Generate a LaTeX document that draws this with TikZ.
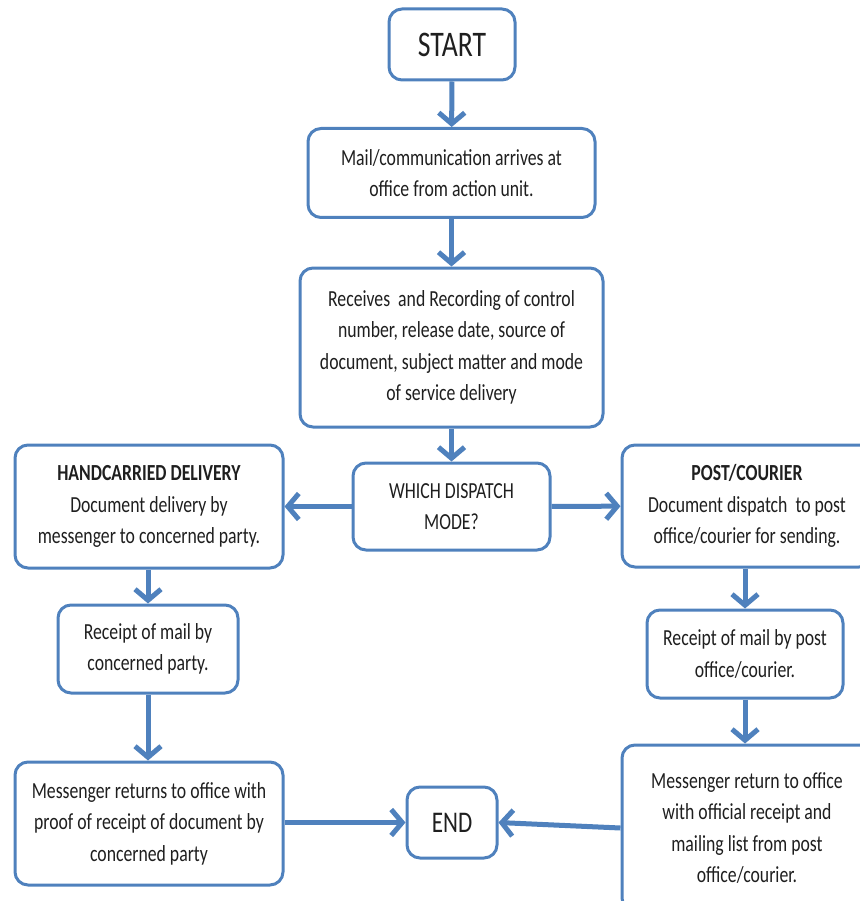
\documentclass[tikz,border=0pt]{standalone}
\usepackage{fontspec}
\setmainfont{Carlito}[FakeStretch=0.77]
\usetikzlibrary{arrows.meta}
\definecolor{flowblue}{HTML}{4F81BD}
\begin{document}
\begin{tikzpicture}[x=1pt,y=-1pt,
  box/.style={draw=flowblue, line width=3pt, rounded corners=13pt, fill=white,
    align=center, inner sep=0pt, text=black!88,
    font=\fontsize{23}{31.5}\selectfont},
  flow/.style={draw=flowblue, line width=5pt,
    -{Straight Barb[length=11pt,width=26pt]}}
]
\useasboundingbox (0,0) rectangle (859,901);

% main column
\node[box, minimum width=126pt, minimum height=71pt, font=\fontsize{36}{40}\selectfont]
  (start) at (452,44.5) {START};
\node[box, minimum width=287pt, minimum height=89pt] (mail) at (451.5,173)
  {Mail/communication arrives at\\office from action unit.};
\node[box, minimum width=303pt, minimum height=159pt] (recv) at (451.5,347.5)
  {Receives\ \ and Recording of control\\number, release date, source of\\document, subject matter and mode\\of service delivery};
\node[box, minimum width=197pt, minimum height=87pt] (which) at (451.5,506.5)
  {WHICH DISPATCH\\MODE?};

% hand-carried branch
\node[box, minimum width=268pt, minimum height=123pt] (hand) at (149,506.5)
  {\textbf{HANDCARRIED DELIVERY}\\Document delivery by\\messenger to concerned party.};
\node[box, minimum width=180pt, minimum height=88pt] (rl) at (148,649)
  {Receipt of mail by\\concerned party.};
\node[box, minimum width=268pt, minimum height=123pt] (ml) at (149,823.5)
  {Messenger returns to office with\\proof of receipt of document by\\concerned party};

% post/courier branch
\node[box, minimum width=250pt, minimum height=122pt] (post) at (747,506)
  {\textbf{POST/COURIER}\\Document dispatch\ \ to post\\office/courier for sending.};
\node[box, minimum width=196pt, minimum height=88pt] (rr) at (745,654)
  {Receipt of mail by post\\office/courier.};
\node[box, minimum width=250pt, minimum height=166pt] (mr) at (747,828)
  {Messenger return to office\\with official receipt and\\mailing list from post\\office/courier.};

\node[box, minimum width=90pt, minimum height=71pt, font=\fontsize{30}{34}\selectfont]
  (end) at (452,822.5) {END};

% connectors
\draw[flow] (start) -- (mail);
\draw[flow] (mail) -- (recv);
\draw[flow] (recv) -- (which);
\draw[flow] (which) -- (hand);
\draw[flow] (which) -- (post);
\draw[flow] (hand.south -| rl.north) -- (rl);
\draw[flow] (rl) -- (ml.north -| rl.south);
\draw[flow] (post.south -| rr.north) -- (rr);
\draw[flow] (rr) -- (mr.north -| rr.south);
\draw[flow] (ml.east |- end.west) -- (end);
\draw[flow] (mr.west) -- (end.east);
\end{tikzpicture}
\end{document}
